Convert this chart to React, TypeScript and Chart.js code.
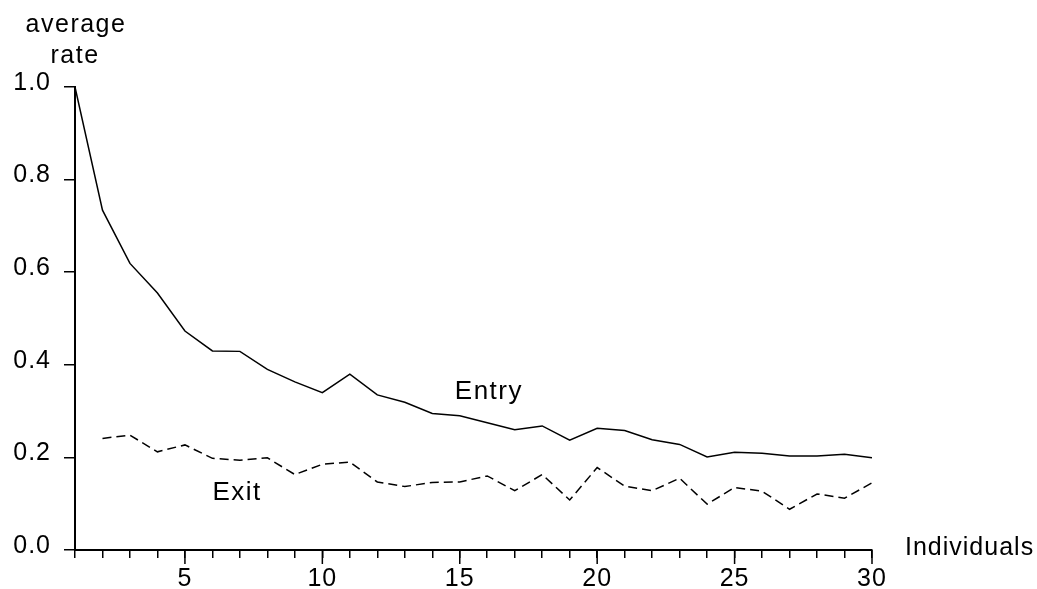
import React, { useEffect, useRef } from "react";
import { Chart, registerables } from "chart.js";

Chart.register(...registerables);

const individuals = [
  1, 2, 3, 4, 5, 6, 7, 8, 9, 10, 11, 12, 13, 14, 15,
  16, 17, 18, 19, 20, 21, 22, 23, 24, 25, 26, 27, 28, 29, 30,
];

const entryRate = [
  1.0, 0.734, 0.619, 0.555, 0.473, 0.43, 0.429, 0.39, 0.363, 0.34,
  0.38, 0.335, 0.319, 0.295, 0.29, 0.275, 0.26, 0.268, 0.237, 0.263,
  0.258, 0.238, 0.228, 0.201, 0.211, 0.209, 0.203, 0.203, 0.207, 0.199,
];

const exitRate = [
  null, 0.241, 0.248, 0.212, 0.227, 0.198, 0.194, 0.199, 0.163, 0.185,
  0.19, 0.147, 0.137, 0.146, 0.147, 0.16, 0.128, 0.163, 0.108, 0.178,
  0.138, 0.128, 0.155, 0.099, 0.135, 0.127, 0.088, 0.121, 0.112, 0.145,
];

const xLabelTicks = [5, 10, 15, 20, 25, 30];
const yTickValues = [0, 0.2, 0.4, 0.6, 0.8, 1.0];

const seriesNames = ["Entry", "Exit"];
const yTitleLines = ["average", "rate"];
const xTitle = "Individuals";

const FONT = '"Liberation Sans", Arial, sans-serif';

const decorPlugin = {
  id: "decor",
  beforeDraw(chart: any) {
    chart.ctx.letterSpacing = "1px";
  },
  afterDraw(chart: any) {
    const ctx = chart.ctx;
    const xs = chart.scales.x;
    const ys = chart.scales.y;
    ctx.save();
    // longer major ticks on x axis
    ctx.strokeStyle = "#000";
    ctx.lineWidth = 1.5;
    xLabelTicks.forEach((v) => {
      const px = xs.getPixelForValue(v);
      ctx.beginPath();
      ctx.moveTo(px, xs.top);
      ctx.lineTo(px, xs.top + 14);
      ctx.stroke();
    });

    ctx.fillStyle = "#000";
    ctx.font = `25px ${FONT}`;
    ctx.letterSpacing = "1.5px";
    ctx.textBaseline = "alphabetic";

    // y-axis title (two lines) above the axis
    ctx.textAlign = "center";
    ctx.fillText(yTitleLines[0], xs.left + 1, 32);
    ctx.fillText(yTitleLines[1], xs.left, 63);

    // series annotations
    ctx.font = `26px ${FONT}`;
    ctx.textAlign = "left";
    ctx.fillText(seriesNames[0], xs.getPixelForValue(14.82), ys.getPixelForValue(0.326));
    ctx.fillText(seriesNames[1], xs.getPixelForValue(6.0), ys.getPixelForValue(0.108));

    // x-axis title
    ctx.font = `25px ${FONT}`;
    ctx.letterSpacing = "1px";
    ctx.fillText(xTitle, xs.right + 33, ys.getPixelForValue(0) + 5);
    ctx.restore();
  },
};

export default function App() {
  const canvasRef = useRef<HTMLCanvasElement | null>(null);

  useEffect(() => {
    if (!canvasRef.current) return;
    const entryPoints = individuals.map((x, i) => ({ x, y: entryRate[i] }));
    const exitPoints = individuals.map((x, i) => ({ x, y: exitRate[i] }));

    const chart = new Chart(canvasRef.current, {
      type: "line",
      data: {
        datasets: [
          {
            label: seriesNames[0],
            data: entryPoints as any,
            borderColor: "#000",
            borderWidth: 1.5,
            pointRadius: 0,
            tension: 0,
            fill: false,
          },
          {
            label: seriesNames[1],
            data: exitPoints as any,
            borderColor: "#000",
            borderWidth: 1.5,
            borderDash: [9, 5],
            pointRadius: 0,
            tension: 0,
            fill: false,
          },
        ],
      },
      options: {
        animation: false,
        responsive: true,
        maintainAspectRatio: false,
        layout: { padding: { top: 87, right: 165, bottom: 0, left: 0 } },
        plugins: {
          legend: { display: false },
          tooltip: { enabled: false },
          title: { display: false },
        },
        scales: {
          x: {
            type: "linear",
            min: 1,
            max: 30,
            afterFit: (scale: any) => {
              scale.height = 39;
            },
            afterBuildTicks: (scale: any) => {
              scale.ticks = individuals.map((v) => ({ value: v }));
            },
            ticks: {
              autoSkip: false,
              maxRotation: 0,
              minRotation: 0,
              padding: 6,
              color: "#000",
              font: { family: FONT, size: 25 },
              callback: (v: any) => (xLabelTicks.includes(Number(v)) ? String(v) : ""),
            },
            grid: {
              display: true,
              drawOnChartArea: false,
              drawTicks: true,
              tickLength: 8,
              color: "#000",
              lineWidth: 1.5,
            },
            border: { display: true, color: "#000", width: 2 },
          },
          y: {
            type: "linear",
            min: 0,
            max: 1,
            afterFit: (scale: any) => {
              scale.width = 75;
            },
            afterBuildTicks: (scale: any) => {
              scale.ticks = yTickValues.map((v) => ({ value: v }));
            },
            ticks: {
              padding: 13,
              labelOffset: -4,
              color: "#000",
              font: { family: FONT, size: 25 },
              callback: (v: any) => Number(v).toFixed(1),
            },
            grid: {
              display: true,
              drawOnChartArea: false,
              drawTicks: true,
              tickLength: 11,
              color: "#000",
              lineWidth: 1.5,
            },
            border: { display: true, color: "#000", width: 2 },
          },
        },
      },
      plugins: [decorPlugin],
    });
    return () => chart.destroy();
  }, []);

  return (
    <div
      style={{
        position: "fixed",
        left: 0,
        top: 0,
        width: 1037,
        height: 589,
        background: "#fff",
      }}
    >
      <canvas ref={canvasRef} />
    </div>
  );
}
